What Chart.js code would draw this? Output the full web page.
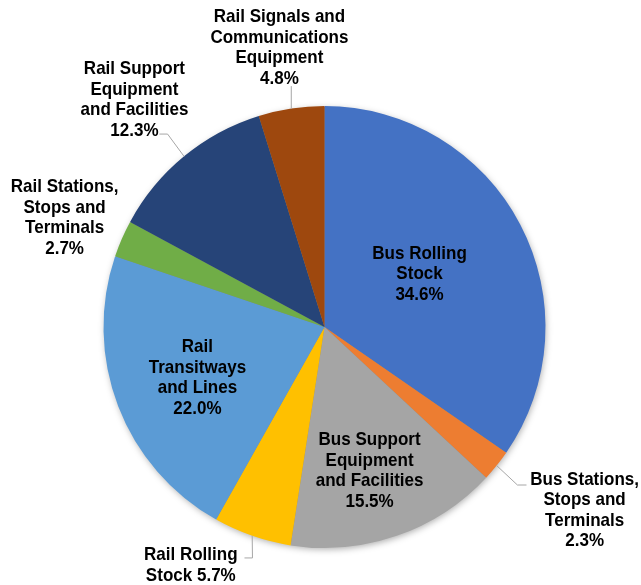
<!DOCTYPE html>
<html>
<head>
<meta charset="utf-8">
<script src="https://cdn.jsdelivr.net/npm/chart.js@4/dist/chart.umd.min.js"></script>
<style>
  html, body { margin: 0; padding: 0; background: #ffffff; }
  #wrap { width: 641px; height: 585px; position: relative; }
</style>
</head>
<body>
<div id="wrap"><canvas id="c" width="641" height="585"></canvas></div>
<script>
// ---- data ----
const categories = [
  'Bus Rolling Stock',
  'Bus Stations, Stops and Terminals',
  'Bus Support Equipment and Facilities',
  'Rail Rolling Stock',
  'Rail Transitways and Lines',
  'Rail Stations, Stops and Terminals',
  'Rail Support Equipment and Facilities',
  'Rail Signals and Communications Equipment'
];
const shares = [34.6, 2.3, 15.5, 5.7, 22.0, 2.7, 12.3, 4.8];
const labelLines = [
  ['Bus Rolling', 'Stock', '{v}'],
  ['Bus Stations,', 'Stops and', 'Terminals', '{v}'],
  ['Bus Support', 'Equipment', 'and Facilities', '{v}'],
  ['Rail Rolling', 'Stock {v}'],
  ['Rail', 'Transitways', 'and Lines', '{v}'],
  ['Rail Stations,', 'Stops and', 'Terminals', '{v}'],
  ['Rail Support', 'Equipment', 'and Facilities', '{v}'],
  ['Rail Signals and', 'Communications', 'Equipment', '{v}']
];

// ---- styles ----
const colors = ['#4472C4', '#ED7D31', '#A5A5A5', '#FFC000', '#5B9BD5', '#70AD47', '#264478', '#9E480E'];
// label block centre, in units of the pie radius relative to the pie centre
const labelPos = [
  [0.43, -0.24], [1.177, 0.83], [0.204, 0.652], [-0.605, 1.079],
  [-0.575, 0.231], [-1.176, -0.493], [-0.86, -1.027], [-0.204, -1.262]
];
// leader line bend points (radius units), starting from the slice's outer edge
const leaders = [
  null,
  [[0.873, 0.715], [0.914, 0.715]],
  null,
  [[-0.326, 1.045], [-0.362, 1.045]],
  null,
  null,
  [[-0.71, -0.873], [-0.747, -0.873]],
  [['edge', -1.09]]
];

const labelPlugin = {
  id: 'pieLabels',
  beforeDatasetsDraw(chart) {
    const meta = chart.getDatasetMeta(0);
    if (!meta.data.length) return;
    const a = meta.data[0];
    const ctx = chart.ctx;
    ctx.save();
    ctx.shadowColor = 'rgba(0,0,0,0.35)';
    ctx.shadowBlur = 7;
    ctx.shadowOffsetX = 1;
    ctx.shadowOffsetY = 2;
    ctx.fillStyle = '#888';
    ctx.beginPath();
    ctx.arc(a.x, a.y, a.outerRadius - 1, 0, Math.PI * 2);
    ctx.fill();
    ctx.restore();
  },
  afterDatasetsDraw(chart) {
    const meta = chart.getDatasetMeta(0);
    const ctx = chart.ctx;
    ctx.save();
    meta.data.forEach((arc, i) => {
      const { x, y, startAngle, endAngle, outerRadius: R } = arc.getProps(['x', 'y', 'startAngle', 'endAngle', 'outerRadius'], true);
      const mid = (startAngle + endAngle) / 2;
      const ex = x + R * Math.cos(mid), ey = y + R * Math.sin(mid);
      if (leaders[i]) {
        ctx.strokeStyle = '#A6A6A6';
        ctx.lineWidth = 1;
        ctx.beginPath();
        ctx.moveTo(ex, ey);
        leaders[i].forEach(p => {
          const px = p[0] === 'edge' ? ex : x + p[0] * R;
          const py = y + p[1] * R;
          ctx.lineTo(px, py);
        });
        ctx.stroke();
      }
      const v = shares[i].toFixed(1) + '%';
      const lines = labelLines[i].map(s => s.replace('{v}', v));
      const lx = x + labelPos[i][0] * R, ly = y + labelPos[i][1] * R;
      const lh = 20.5;
      ctx.fillStyle = '#000000';
      ctx.font = 'bold 18.5px "Liberation Sans", Arial, sans-serif';
      ctx.textAlign = 'center';
      ctx.textBaseline = 'middle';
      lines.forEach((s, j) => {
        ctx.save();
        ctx.translate(lx, ly + (j - (lines.length - 1) / 2) * lh);
        ctx.scale(0.92, 1);
        ctx.fillText(s, 0, 0);
        ctx.restore();
      });
    });
    ctx.restore();
  }
};

new Chart(document.getElementById('c'), {
  type: 'pie',
  data: {
    labels: categories,
    datasets: [{
      data: shares,
      backgroundColor: colors,
      borderWidth: 0
    }]
  },
  options: {
    responsive: false,
    animation: false,
    layout: { padding: { top: 106, bottom: 37, left: 103, right: 95 } },
    plugins: { legend: { display: false }, tooltip: { enabled: false } }
  },
  plugins: [labelPlugin]
});
</script>
</body>
</html>
